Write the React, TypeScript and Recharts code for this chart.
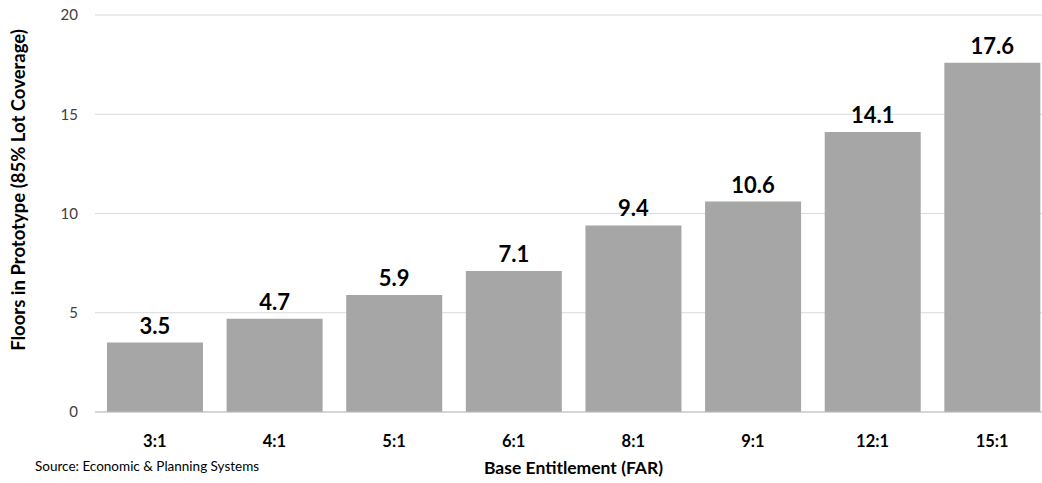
import React from "react";
import { BarChart, Bar, XAxis, YAxis, CartesianGrid, LabelList } from "recharts";

const categories = ["3:1", "4:1", "5:1", "6:1", "8:1", "9:1", "12:1", "15:1"];
const floors = [3.5, 4.7, 5.9, 7.1, 9.4, 10.6, 14.1, 17.6];
const yTicks = [0, 5, 10, 15, 20];

const data = categories.map((c, i) => ({ cat: c, floors: floors[i] }));
const FONT = "Lato, 'Open Sans', sans-serif";

const YTitle = () => (
  <text
    x={0}
    y={0}
    transform="translate(25,190) rotate(-90)"
    textAnchor="middle"
    fontFamily={FONT}
    fontWeight="bold"
    fontSize={18.5}
    fill="#000"
  >
    Floors in Prototype (85% Lot Coverage)
  </text>
);

export default function App() {
  return (
    <div style={{ position: "absolute", left: 0, top: 0, width: 1042, height: 483, overflow: "hidden", background: "#fff" }}>
      <BarChart
        width={1060}
        height={483}
        data={data}
        margin={{ top: 15, right: 8, left: 0, bottom: 0 }}
        barCategoryGap="10%"
      >
        <CartesianGrid horizontal vertical={false} stroke="#D9D9D9" />
        <XAxis
          dataKey="cat"
          height={71}
          tickLine={false}
          axisLine={{ stroke: "#BFBFBF" }}
          tickMargin={17}
          tick={{ fill: "#000", fontFamily: FONT, fontWeight: "bold", fontSize: 16.5 }}
          label={{
            value: "Base Entitlement (FAR)",
            position: "insideBottom",
            offset: 9,
            fill: "#000",
            fontFamily: FONT,
            fontWeight: "bold",
            fontSize: 17.5,
          }}
        />
        <YAxis
          width={95}
          domain={[0, 20]}
          ticks={yTicks}
          tickLine={false}
          axisLine={false}
          tickSize={0}
          tickMargin={17}
          tick={{ fill: "#404040", fontFamily: FONT, fontSize: 15 }}
          label={<YTitle />}
        />
        <Bar dataKey="floors" fill="#A6A6A6" isAnimationActive={false}>
          <LabelList
            dataKey="floors"
            position="top"
            offset={9}
            fill="#000"
            fontFamily={FONT}
            fontWeight="bold"
            fontSize={22}
          />
        </Bar>
      </BarChart>
      <div
        style={{
          position: "absolute",
          left: 35,
          top: 458,
          fontFamily: FONT,
          fontSize: 13.5,
          color: "#000",
          whiteSpace: "nowrap",
        }}
      >
        Source: Economic &amp; Planning Systems
      </div>
    </div>
  );
}
